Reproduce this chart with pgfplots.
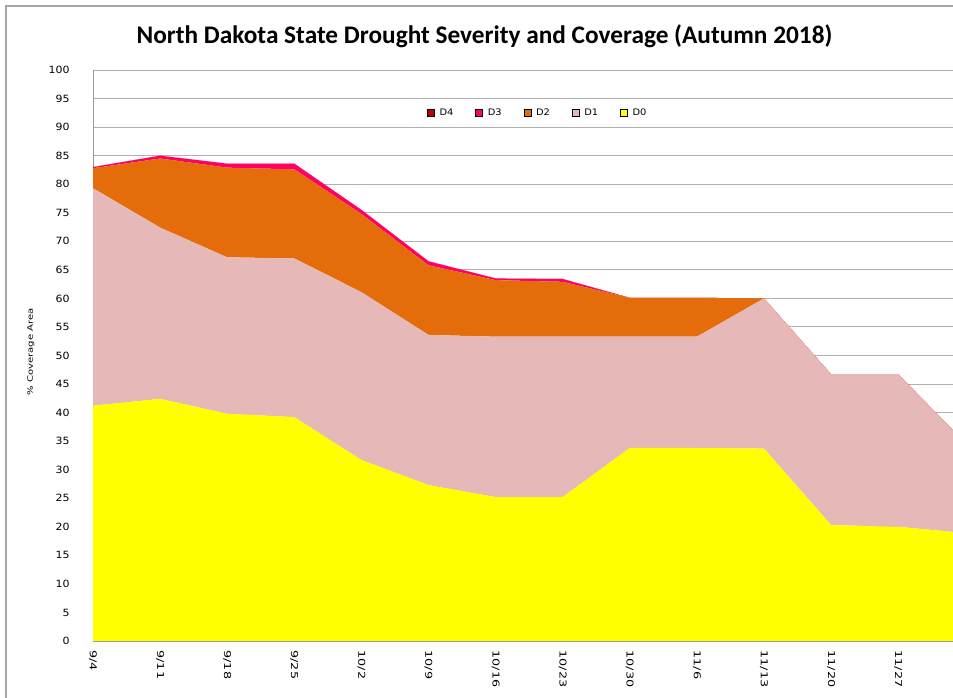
\documentclass[border=0pt]{standalone}
\usepackage{fontspec}
\setmainfont{Carlito}
\newfontfamily\tickfont[FakeStretch=1.1]{DejaVu Sans}
\newfontfamily\vertfont[FakeStretch=1.35]{DejaVu Sans}
\usepackage{pgfplots}
\usepackage{pgfplotstable}
\pgfplotsset{compat=1.18}
\definecolor{cD0}{HTML}{FFFF00}
\definecolor{cD1}{HTML}{E6B8B7}
\definecolor{cD2}{HTML}{E46C0A}
\definecolor{cD3}{HTML}{FF0066}
\definecolor{cD4}{HTML}{C00000}
\definecolor{gridc}{HTML}{B0B0B0}
\pgfplotstableread{
x D0 D1 D2 D3 D4
0 41.2 38.1 3.5 0.2 0
1 42.4 30.0 12.1 0.5 0
2 39.8 27.4 15.7 0.7 0
3 39.2 27.8 15.6 1.0 0
4 31.7 29.4 13.7 0.7 0
5 27.3 26.3 12.2 0.7 0
6 25.2 28.1 9.9 0.3 0
7 25.2 28.1 9.6 0.5 0
8 33.8 19.5 6.8 0 0
9 33.8 19.5 6.8 0 0
10 33.7 26.3 0 0 0
11 20.3 26.4 0 0 0
12 20.0 26.7 0 0 0
13 18.9 15.8 0 0 0
}\datatable
\begin{document}
\begin{tikzpicture}
\useasboundingbox (0bp,0bp) rectangle (953bp,698bp);
\clip (0bp,0bp) rectangle (953bp,698bp);
\fill[white] (0bp,0bp) rectangle (953bp,698bp);
\draw[gray!70, line width=1.2bp] (6bp,-5bp) -- (6bp,692bp) -- (960bp,692bp);
\node[font=\bfseries\fontsize{25.4}{29}\selectfont] at (484.5bp,662bp) {North Dakota State Drought Severity and Coverage (Autumn 2018)};
\node[rotate=90, font=\vertfont\fontsize{7.5}{8}\selectfont] at (31bp,346bp) {\% Coverage Area};
\begin{axis}[
  at={(93bp,57bp)}, anchor=south west,
  scale only axis, width=872.3bp, height=571bp,
  xmin=0, xmax=13, ymin=0, ymax=100,
  axis x line*=bottom, axis y line*=left,
  axis line style={draw=gray!80, -},
  xtick={0,...,13},
  xticklabels={9/4,9/11,9/18,9/25,10/2,10/9,10/16,10/23,10/30,11/6,11/13,11/20,11/27,12/4},
  xtick align=inside, major tick length=4bp,
  x tick style={draw=gray!60},
  ytick={0,5,...,100},
  y tick style={draw=none},
  ymajorgrids, grid style={draw=gridc, line width=0.9bp},
  /pgf/number format/assume math mode=true,
  yticklabel style={font=\tickfont\fontsize{10}{11}\selectfont, anchor=east, xshift=-20bp},
  xticklabel style={font=\vertfont\fontsize{9.5}{10}\selectfont, rotate=-90, anchor=west},
  xticklabel shift=6bp,
  stack plots=y,
  legend style={at={(0.51,0.9247)}, anchor=center, draw=none, fill=none,
    font=\tickfont\fontsize{9}{10}\selectfont,
    /tikz/every odd column/.append style={column sep=3bp},
    /tikz/every even column/.append style={column sep=20bp}},
  legend columns=-1,
  legend image code/.code={\fill[#1] (0bp,-3.5bp) rectangle (7bp,3.5bp);},
]
\addlegendimage{fill=cD4}\addlegendentry{D4}
\addlegendimage{fill=cD3}\addlegendentry{D3}
\addlegendimage{fill=cD2}\addlegendentry{D2}
\addlegendimage{fill=cD1}\addlegendentry{D1}
\addlegendimage{fill=cD0}\addlegendentry{D0}
\addplot[fill=cD0, draw=none, forget plot] table[x=x, y=D0] {\datatable} \closedcycle;
\addplot[fill=cD1, draw=none, forget plot] table[x=x, y=D1] {\datatable} \closedcycle;
\addplot[fill=cD2, draw=none, forget plot] table[x=x, y=D2] {\datatable} \closedcycle;
\addplot[fill=cD3, draw=none, forget plot] table[x=x, y=D3] {\datatable} \closedcycle;
\addplot[fill=cD4, draw=none, forget plot] table[x=x, y=D4] {\datatable} \closedcycle;
\end{axis}
\end{tikzpicture}
\end{document}
